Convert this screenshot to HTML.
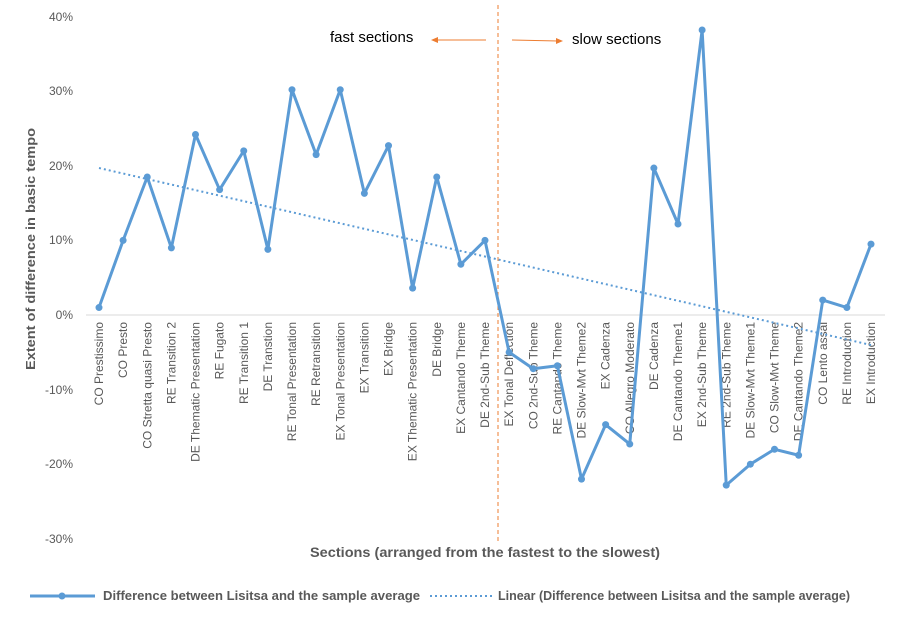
<!DOCTYPE html>
<html><head><meta charset="utf-8"><style>
body{margin:0;background:#fff;}
text{font-family:"Liberation Sans",Arial,sans-serif;fill:#595959;}
</style></head><body>
<svg width="899" height="618" xmlns="http://www.w3.org/2000/svg">
<rect width="899" height="618" fill="#fff"/>
<g font-size="12" text-anchor="end">
<text x="73" y="21">40%</text><text x="73" y="95">30%</text><text x="73" y="170">20%</text>
<text x="73" y="244">10%</text><text x="73" y="319">0%</text><text x="73" y="394">-10%</text>
<text x="73" y="468">-20%</text><text x="73" y="543">-30%</text>
</g>
<line x1="86" y1="315" x2="885" y2="315" stroke="#d9d9d9" stroke-width="1"/>
<text transform="translate(35,249) rotate(-90)" font-size="13" font-weight="bold" text-anchor="middle" textLength="242" lengthAdjust="spacingAndGlyphs">Extent of difference in basic tempo</text>
<text x="485" y="557" font-size="14" font-weight="bold" text-anchor="middle" textLength="350" lengthAdjust="spacingAndGlyphs">Sections (arranged from the fastest to the slowest)</text>
<line x1="498" y1="5" x2="498" y2="542" stroke="#ed7d31" stroke-width="1" stroke-dasharray="4,3"/>
<text x="330" y="42" font-size="15" style="fill:#000">fast sections</text>
<text x="572" y="44" font-size="15" style="fill:#000">slow sections</text>
<line x1="436" y1="40" x2="486" y2="40" stroke="#ed7d31" stroke-width="1"/>
<path d="M431,40 L438,37 L438,43Z" fill="#ed7d31"/>
<line x1="512" y1="40" x2="558" y2="41" stroke="#ed7d31" stroke-width="1"/>
<path d="M563,41 L556,38 L556,44Z" fill="#ed7d31"/>
<g id="labels" font-size="12" text-anchor="end"></g>
<line x1="99" y1="168" x2="871" y2="345" stroke="#5b9bd5" stroke-width="2" stroke-dasharray="2,3"/>
<polyline id="ser" fill="none" stroke="#5b9bd5" stroke-width="3" stroke-linejoin="round"/>
<g id="dots" fill="#5b9bd5"></g>
<line x1="30" y1="596" x2="95" y2="596" stroke="#5b9bd5" stroke-width="3"/>
<circle cx="62" cy="596" r="3.5" fill="#5b9bd5"/>
<text x="103" y="600" font-size="13" font-weight="bold" textLength="317" lengthAdjust="spacingAndGlyphs">Difference between Lisitsa and the sample average</text>
<line x1="430" y1="596" x2="493" y2="596" stroke="#5b9bd5" stroke-width="2" stroke-dasharray="2,3"/>
<text x="498" y="600" font-size="13" font-weight="bold" textLength="352" lengthAdjust="spacingAndGlyphs">Linear (Difference between Lisitsa and the sample average)</text>
</svg>
<script>
var names=["CO Prestissimo","CO Presto","CO Stretta quasi Presto","RE Transition 2","DE Thematic Presentation","RE Fugato","RE Transition 1","DE Transtion","RE Tonal Presentation","RE Retransition","EX Tonal Presentation","EX Transition","EX Bridge","EX Thematic Presentation","DE Bridge","EX Cantando Theme","DE 2nd-Sub Theme","EX Tonal Deflection","CO 2nd-Sub Theme","RE Cantando Theme","DE Slow-Mvt Theme2","EX Cadenza","CO Allegro Moderato","DE Cadenza","DE Cantando Theme1","EX 2nd-Sub Theme","RE 2nd-Sub Theme","DE Slow-Mvt Theme1","CO Slow-Mvt Theme","DE Cantando Theme2","CO Lento assai","RE Introduction","EX Introduction"];
var v=[1,10,18.5,9,24.2,16.8,22,8.8,30.2,21.5,30.2,16.3,22.7,3.6,18.5,6.8,10,-5,-7.2,-6.8,-22,-14.7,-17.3,19.7,12.2,38.2,-22.8,-20,-18,-18.8,2,1,9.5];
var ns="http://www.w3.org/2000/svg",pts=[],L=document.getElementById('labels'),D=document.getElementById('dots');
for(var i=0;i<33;i++){var x=99+i*24.125,y=315-v[i]*7.46;pts.push(x+','+y);
var t=document.createElementNS(ns,'text');t.setAttribute('transform','translate('+(x+4)+',322) rotate(-90)');t.textContent=names[i];L.appendChild(t);
var c=document.createElementNS(ns,'circle');c.setAttribute('cx',x);c.setAttribute('cy',y);c.setAttribute('r',3.5);D.appendChild(c);}
document.getElementById('ser').setAttribute('points',pts.join(' '));
</script>
</body></html>
